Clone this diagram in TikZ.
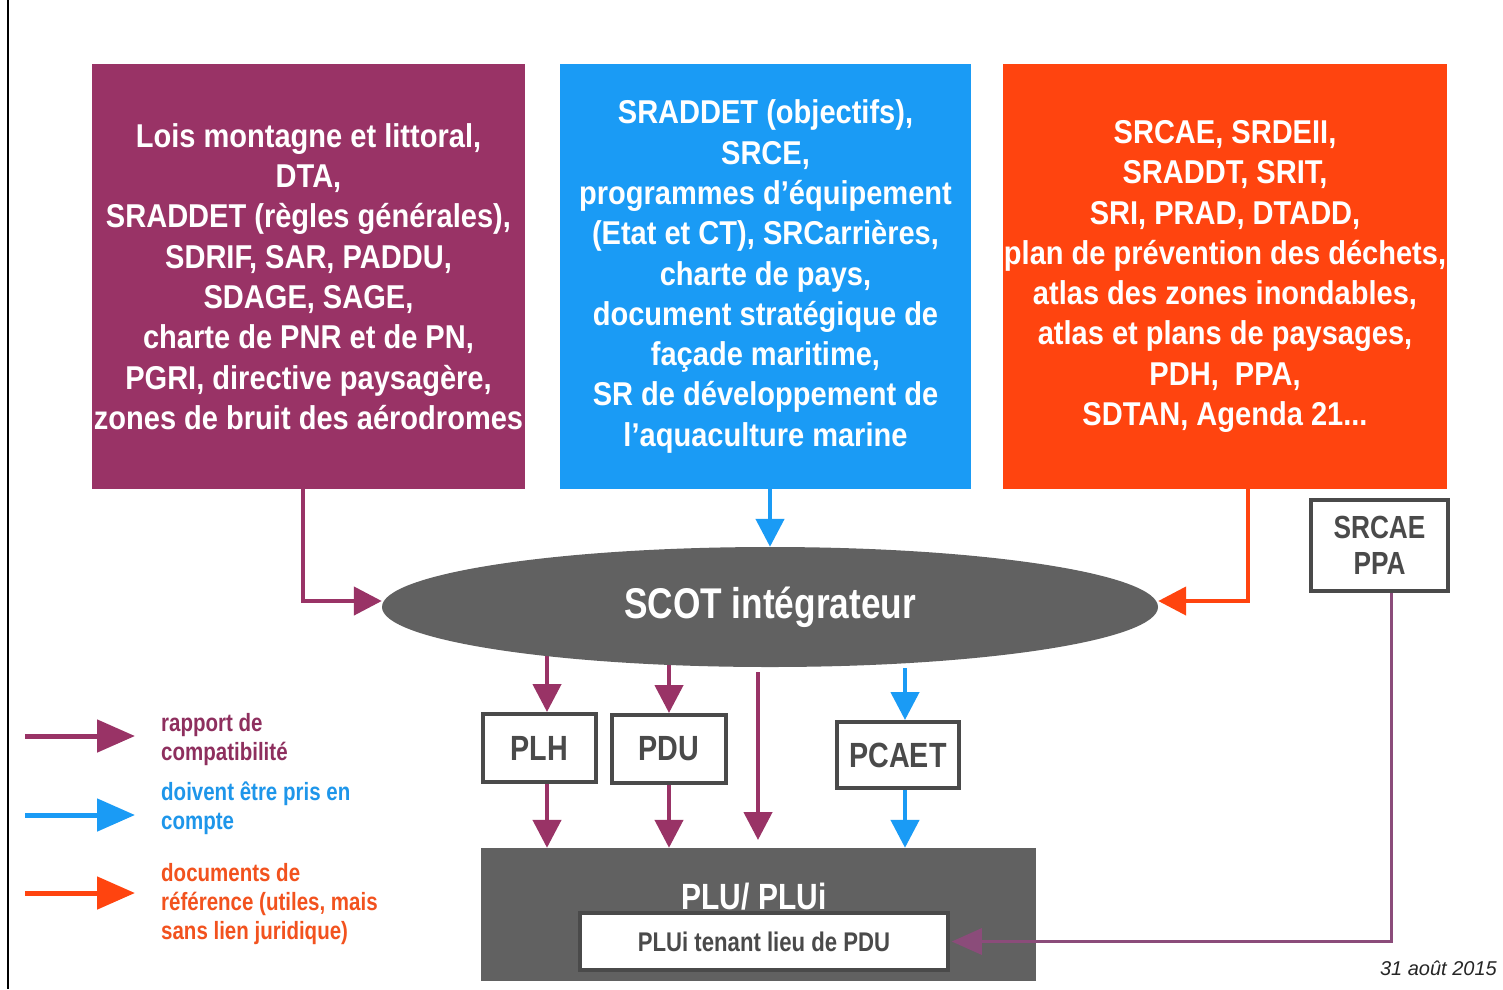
\documentclass[tikz,border=0pt]{standalone}
\usepackage{fontspec}
\setmainfont{Liberation Sans}[FakeStretch=0.82]
\newfontfamily\widefont{Liberation Sans}[FakeStretch=0.88]
\newfontfamily\datefont{Liberation Sans}
\usetikzlibrary{arrows.meta,shapes.geometric,calc}
\definecolor{cpurple}{HTML}{993366}
\definecolor{cblue}{HTML}{1A9BF5}
\definecolor{corange}{HTML}{FF440F}
\definecolor{cgrey}{HTML}{616161}
\definecolor{cdark}{HTML}{4A4A4A}
\definecolor{cline}{HTML}{8B4C7A}
\definecolor{tpurple}{HTML}{8E2F5E}
\definecolor{tblue}{HTML}{1E96EA}
\definecolor{torange}{HTML}{F2521E}
\pgfdeclarelayer{bg}
\pgfdeclarelayer{paper}
\pgfsetlayers{paper,bg,main}
\tikzset{
  bigbox/.style={rectangle, inner sep=0pt, text=white, align=center, font=\widefont\bfseries\fontsize{33}{40.3}\selectfont},
  docbox/.style={rectangle, draw=cdark, line width=4pt, fill=white, text=cdark, inner sep=0pt, font=\bfseries\fontsize{35}{40}\selectfont},
  arr/.style={line width=4.5pt, -{Triangle[length=28pt,width=28pt]}},
  parr/.style={arr, draw=cpurple},
  barr/.style={arr, draw=cblue},
  oarr/.style={arr, draw=corange},
  legarr/.style={line width=5pt, -{Triangle[length=38pt,width=32pt]}},
  legtxt/.style={anchor=west, align=left, inner sep=0pt, font=\bfseries\fontsize{25}{29}\selectfont}
}
\begin{document}
\begin{tikzpicture}[x=1pt,y=-1pt]
\useasboundingbox (0,0) rectangle (1503,989);
\begin{pgfonlayer}{paper}
\fill[white] (0,0) rectangle (1503,989);
\end{pgfonlayer}
\draw[line width=1.5pt, black] (8,0) -- (8,989);

% top boxes
\node[bigbox, fill=cpurple, minimum width=433pt, minimum height=425pt] (lois) at (308.5,276.5)
 {\raisebox{-3pt}{}Lois montagne et littoral,\\DTA,\\SRADDET (règles générales),\\SDRIF, SAR, PADDU,\\SDAGE, SAGE,\\charte de PNR et de PN,\\PGRI, directive paysagère,\\zones de bruit des aérodromes};
\node[bigbox, fill=cblue, minimum width=411pt, minimum height=425pt] (srad) at (765.5,276.5)
 {SRADDET (objectifs),\\SRCE,\\programmes d’équipement\\(Etat et CT), SRCarrières,\\charte de pays,\\document stratégique de\\façade maritime,\\SR de développement de\\l’aquaculture marine};
\node[bigbox, fill=corange, minimum width=444pt, minimum height=425pt] (srcaeb) at (1225,276.5)
 {SRCAE, SRDEII,\\SRADDT, SRIT,\\SRI, PRAD, DTADD,\\plan de prévention des déchets,\\atlas des zones inondables,\\atlas et plans de paysages,\\PDH,\ \ PPA,\\SDTAN, Agenda 21...};

% SRCAE PPA box
\node[docbox, minimum width=137pt, minimum height=91pt, align=center, font=\bfseries\fontsize{32}{36}\selectfont] (srcae) at (1379.5,545.5) {SRCAE\\PPA};

% ellipse
\node[ellipse, fill=cgrey, minimum width=776pt, minimum height=120pt, inner sep=0pt, text=white, font=\bfseries\fontsize{43}{48}\selectfont] (scot) at (770,607) {\raisebox{-4pt}{SCOT intégrateur}};

% middle boxes
\node[docbox, minimum width=113pt, minimum height=68pt] (plh) at (539.5,748) {PLH};
\node[docbox, minimum width=114pt, minimum height=68pt] (pdu) at (669,749) {PDU};
\node[docbox, minimum width=122pt, minimum height=66pt] (pcaet) at (898,755) {PCAET};

% PLU
\node[rectangle, fill=cgrey, minimum width=555pt, minimum height=133pt, inner sep=0pt] (plu) at (758.5,914.5) {};
\node[text=white, font=\bfseries\fontsize{36.5}{42}\selectfont, inner sep=0pt] (plutxt) at (754,897) {PLU/ PLUi};
\node[docbox, line width=3.5pt, minimum width=368pt, minimum height=57pt, font=\bfseries\fontsize{27}{30}\selectfont] (plui) at (764,941.5) {PLUi tenant lieu de PDU};

% coordinates
\coordinate (plhx) at ([xshift=7.5pt]plh.north);
\coordinate (pdux) at (pdu.north);
\coordinate (longx) at (758,672);
\coordinate (longend) at (758,840);
\coordinate (pcx) at ([xshift=7pt]pcaet.north);
\coordinate (pcstart) at (905,668);
\coordinate (plhb) at ([xshift=7.5pt]plh.south);
\coordinate (srcx) at ([xshift=11.5pt]srcae.south);
\coordinate (loisx) at ([xshift=-5.5pt]lois.south);
\coordinate (orx) at ([xshift=23pt]srcaeb.south);
\coordinate (scotw) at ([yshift=6pt]scot.west);
\coordinate (scote) at ([yshift=6pt]scot.east);

% connectors
\draw[parr, line cap=butt] (loisx) |- (scotw);
\draw[barr] (srad.south -| scot.north) -- (scot.north);
\draw[oarr] (orx) |- (scote);
\begin{pgfonlayer}{bg}
\draw[parr] (plhx |- scot.center) -- (plhx |- plh.north);
\draw[parr] (pdux |- scot.center) -- (pdu.north);
\end{pgfonlayer}
\draw[parr] (longx) -- (longend);
\draw[barr] (pcstart) -- (pcx);
\draw[parr] (plhb) -- (plhb |- plu.north);
\draw[parr] (pdu.south) -- (pdu.south |- plu.north);
\draw[barr] ([xshift=7pt]pcaet.south) -- ([xshift=7pt]pcaet.south |- plu.north);
\draw[line width=3pt, cline, -{Triangle[length=30pt,width=26pt]}] (srcx) |- ([xshift=2pt]plui.east);

% legend
\coordinate (l1a) at (25,736); \coordinate (l1b) at (135,736);
\coordinate (l2a) at (25,815); \coordinate (l2b) at (135,815);
\coordinate (l3a) at (25,893); \coordinate (l3b) at (135,893);
\draw[legarr, draw=cpurple] (l1a) -- (l1b);
\draw[legarr, draw=cblue] (l2a) -- (l2b);
\draw[legarr, draw=corange] (l3a) -- (l3b);
\node[legtxt, text=tpurple] (lt1) at (161,740) {rapport de\\compatibilité};
\node[legtxt, text=tblue] (lt2) at (161,808) {doivent être pris en\\compte};
\node[legtxt, text=torange] (lt3) at (161,904) {documents de\\référence (utiles, mais\\sans lien juridique)};

% date
\node[anchor=east, inner sep=0pt, text=black!85, font=\datefont\itshape\fontsize{20}{24}\selectfont] (date) at (1497,968) {31 août 2015};
\end{tikzpicture}
\end{document}
